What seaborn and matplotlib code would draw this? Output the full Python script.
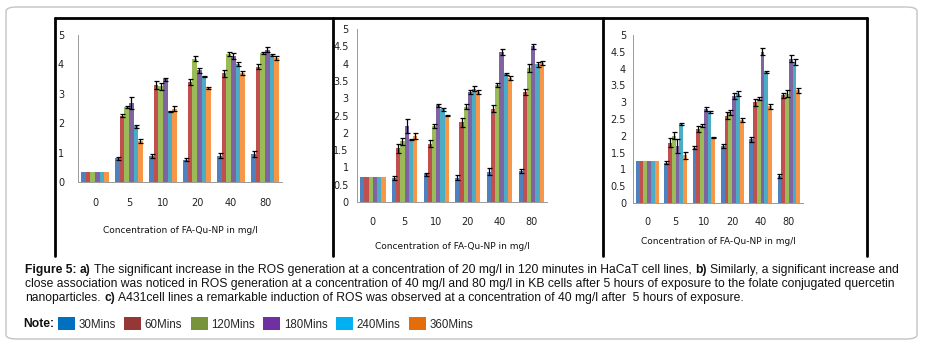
import matplotlib
matplotlib.use('Agg')
import matplotlib.pyplot as plt
import numpy as np
import pandas as pd
import seaborn as sns
from matplotlib import font_manager
from matplotlib.patches import Patch, FancyBboxPatch
from matplotlib.lines import Line2D

# Data (ROS level per concentration, one row per exposure time)
conc = ['0', '5', '10', '20', '40', '80']
times = ['30Mins', '60Mins', '120Mins', '180Mins', '240Mins', '360Mins']

hacat_mean = [[0.35, 0.80, 0.87, 0.75, 0.90, 0.95],
              [0.35, 2.25, 3.30, 3.40, 3.70, 3.92],
              [0.35, 2.55, 3.25, 4.20, 4.35, 4.40],
              [0.35, 2.70, 3.50, 3.80, 4.30, 4.50],
              [0.35, 1.90, 2.40, 3.60, 4.00, 4.32],
              [0.35, 1.40, 2.50, 3.20, 3.70, 4.22]]
hacat_err = [[0, 0.06, 0.07, 0.05, 0.07, 0.09],
             [0, 0.05, 0.12, 0.10, 0.12, 0.08],
             [0, 0.04, 0.12, 0.07, 0.08, 0.03],
             [0, 0.20, 0.05, 0.08, 0.10, 0.08],
             [0, 0.05, 0.02, 0.02, 0.07, 0.05],
             [0, 0.06, 0.08, 0.02, 0.06, 0.08]]

kb_mean = [[0.72, 0.70, 0.80, 0.70, 0.88, 0.90],
           [0.72, 1.55, 1.68, 2.30, 2.70, 3.18],
           [0.72, 1.75, 2.20, 2.76, 3.38, 3.88],
           [0.72, 2.20, 2.80, 3.18, 4.34, 4.50],
           [0.72, 1.80, 2.68, 3.28, 3.70, 3.98],
           [0.72, 1.90, 2.50, 3.18, 3.58, 4.02]]
kb_err = [[0, 0.06, 0.04, 0.07, 0.09, 0.05],
          [0, 0.13, 0.10, 0.13, 0.09, 0.08],
          [0, 0.10, 0.05, 0.08, 0.05, 0.12],
          [0, 0.20, 0.04, 0.06, 0.09, 0.08],
          [0, 0.02, 0.04, 0.06, 0.04, 0.08],
          [0, 0.08, 0.02, 0.07, 0.06, 0.06]]

a431_mean = [[1.25, 1.20, 1.65, 1.70, 1.90, 0.80],
             [1.25, 1.80, 2.20, 2.60, 3.00, 3.20],
             [1.25, 2.00, 2.30, 2.70, 3.10, 3.25],
             [1.25, 1.70, 2.80, 3.18, 4.50, 4.30],
             [1.25, 2.35, 2.70, 3.25, 3.90, 4.20],
             [1.25, 1.42, 1.95, 2.46, 2.88, 3.35]]
a431_err = [[0, 0.05, 0.04, 0.06, 0.07, 0.05],
            [0, 0.13, 0.10, 0.10, 0.10, 0.08],
            [0, 0.10, 0.05, 0.08, 0.04, 0.10],
            [0, 0.20, 0.05, 0.08, 0.10, 0.10],
            [0, 0.02, 0.03, 0.08, 0.04, 0.08],
            [0, 0.10, 0.02, 0.06, 0.08, 0.07]]

bar_colors = ['#4F81BD', '#C0504D', '#9BBB59', '#8064A2', '#4BACC6', '#F79646']
note_colors = ['#0070C0', '#953735', '#77933C', '#7030A0', '#00B0F0', '#E46C0A']

xlabel = 'Concentration of FA-Qu-NP in mg/l'

# Style
sns.set_style('white')
names = {f.name for f in font_manager.fontManager.ttflist}
narrow = 'Liberation Sans Narrow' if 'Liberation Sans Narrow' in names else 'DejaVu Sans'
plt.rcParams['font.family'] = ['Liberation Sans', 'DejaVu Sans']

W, H = 930, 347
fig = plt.figure(figsize=(W / 100, H / 100), dpi=100)

def px_axes(x0, x1, ytop, ybot):
    return fig.add_axes([x0 / W, 1 - ybot / H, (x1 - x0) / W, (ybot - ytop) / H])

def to_long(mean):
    rows = []
    for t, series in zip(times, mean):
        for c, v in zip(conc, series):
            rows.append({'conc': c, 'time': t, 'ros': v})
    return pd.DataFrame(rows)

# (means, errors, axes box in px, ytick step, xlabel y in axes units, x pad, y pad)
panels = [
    (hacat_mean, hacat_err, (78, 282, 35, 182), 1.0, -0.33, 11.5, 7),
    (kb_mean, kb_err, (357, 547, 29, 202), 0.5, -0.26, 11, 3),
    (a431_mean, a431_err, (633, 803, 35, 203), 0.5, -0.23, 10, 2),
]

for mean, err, box, step, lab_y, xpad, ypad in panels:
    ax = px_axes(*box)
    df = to_long(mean)
    sns.barplot(data=df, x='conc', y='ros', hue='time', order=conc, hue_order=times,
                palette=bar_colors, errorbar=None, linewidth=0, saturation=1,
                legend=False, ax=ax)
    for cont, e_row in zip(ax.containers, err):
        xs, ys, es = [], [], []
        for p, e in zip(cont.patches, e_row):
            if e > 0:
                xs.append(p.get_x() + p.get_width() / 2)
                ys.append(p.get_height())
                es.append(e)
        ax.errorbar(xs, ys, yerr=es, fmt='none', ecolor='black',
                    elinewidth=0.9, capsize=1.8, capthick=0.9)
    ax.set_xlim(-0.5, len(conc) - 0.5)
    ax.set_ylim(0, 5)
    yt = np.arange(0, 5 + 1e-9, step)
    ax.set_yticks(yt)
    ax.set_yticklabels([f'{v:g}' for v in yt])
    ax.set_xticks(range(len(conc)))
    ax.set_xticks(np.arange(-0.5, len(conc), 1.0), minor=True)
    ax.tick_params(axis='x', which='major', length=0, pad=xpad, labelsize=7, labelcolor='#222222')
    ax.tick_params(axis='x', which='minor', length=3, width=0.6, color='#999999', direction='out')
    ax.tick_params(axis='y', length=3, width=0.6, color='#999999', direction='out',
                   pad=ypad, labelsize=7, labelcolor='#222222')
    for lab in ax.get_xticklabels() + ax.get_yticklabels():
        lab.set_family(narrow)
    for s in ['top', 'right']:
        ax.spines[s].set_visible(False)
    for s in ['left', 'bottom']:
        ax.spines[s].set_color('#999999')
        ax.spines[s].set_linewidth(0.7)
    ax.set_ylabel('')
    ax.set_xlabel(xlabel, fontsize=6.5, family=narrow, color='#111111')
    ax.xaxis.set_label_coords(0.5, lab_y)
    ax.xaxis.label.set_va('center')
    ax.set_facecolor('white')

# Panel frames
def fline(xs, ys):
    fig.add_artist(Line2D([x / W for x in xs], [1 - y / H for y in ys],
                          color='black', lw=2.0, transform=fig.transFigure))
fline([55, 867], [18, 18])
for x in [55, 333, 603, 867]:
    fline([x, x], [18, 256])

# Outer box
fig.add_artist(FancyBboxPatch((6 / W, 1 - 339 / H), (917 - 6) / W, (339 - 7) / H,
                              boxstyle='round,pad=0,rounding_size=0.012',
                              transform=fig.transFigure, fc='none', ec='#c4c4c4', lw=1.0))

# Caption with bold runs
renderer = fig.canvas.get_renderer()
cap_size = 8.7

def width_of(s, weight):
    t = fig.text(0, 0, s, fontsize=cap_size, weight=weight)
    w = t.get_window_extent(renderer).width
    t.remove()
    return w

space_w = width_of('x x', 'normal') - width_of('xx', 'normal')

def runs(x, y, parts):
    for s, bold in parts:
        w = 'bold' if bold else 'normal'
        t = fig.text(x / W, 1 - y / H, s, fontsize=cap_size, weight=w, va='center', ha='left',
                     color='#111111')
        x += t.get_window_extent(renderer).width + space_w

runs(25, 270, [('Figure 5:', True), ('a)', True),
               ('The significant increase in the ROS generation at a concentration of 20 mg/l in 120 minutes in HaCaT cell lines,', False),
               ('b)', True), ('Similarly, a significant increase and', False)])
runs(25, 284, [('close association was noticed in ROS generation at a concentration of 40 mg/l and 80 mg/l in KB cells after 5 hours of exposure to the folate conjugated quercetin', False)])
runs(25, 298, [('nanoparticles.', False), ('c)', True),
               ('A431cell lines a remarkable induction of ROS was observed at a concentration of 40 mg/l after  5 hours of exposure.', False)])

# Note legend
fig.text(23 / W, 1 - 324 / H, 'Note:', fontsize=cap_size, weight='bold', va='center', ha='left',
         color='#111111')
handles = [Patch(facecolor=c, edgecolor='none') for c in note_colors]
fig.legend(handles, times, loc='center left', bbox_to_anchor=(58 / W, 1 - 324 / H),
           ncol=6, frameon=False, fontsize=8.3, handlelength=1.47, handleheight=1.3,
           handletextpad=0.3, columnspacing=0.75, borderpad=0, borderaxespad=0)

fig.savefig('out.png', dpi=100, facecolor='white')
